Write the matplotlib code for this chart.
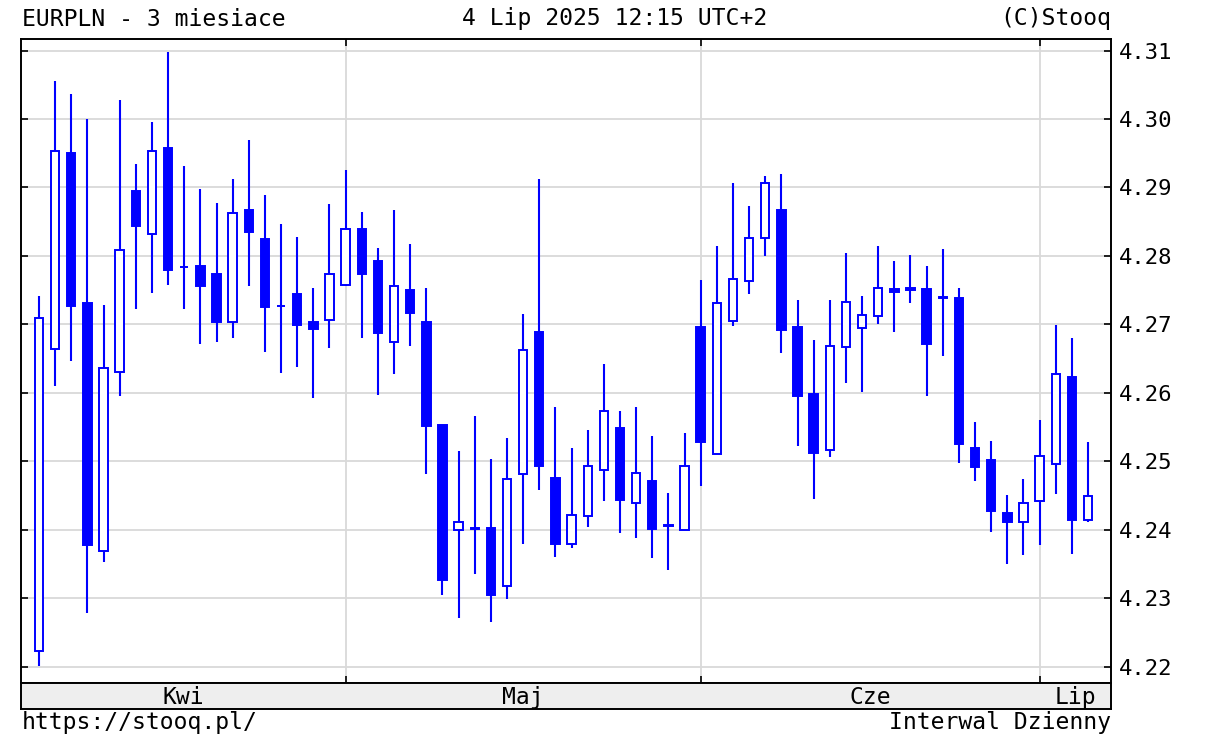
import numpy as np
import pandas as pd
import matplotlib
matplotlib.use("Agg")
import matplotlib.pyplot as plt

# EURPLN daily candles, 4 Apr 2025 - 4 Jul 2025
dates = pd.bdate_range("2025-04-04", "2025-07-04")

opens = [
    4.2224, 4.2664, 4.2950, 4.2732, 4.2369, 4.2630, 4.2895, 4.2832, 4.2957, 4.2784,
    4.2785, 4.2773, 4.2704, 4.2867, 4.2825, 4.2727, 4.2744, 4.2704, 4.2706, 4.2758,
    4.2840, 4.2793, 4.2675, 4.2750, 4.2704, 4.2553, 4.2400, 4.2402, 4.2403, 4.2318,
    4.2482, 4.2689, 4.2476, 4.2380, 4.2421, 4.2488, 4.2549, 4.2440, 4.2472, 4.2408,
    4.2400, 4.2697, 4.2511, 4.2705, 4.2763, 4.2826, 4.2867, 4.2697, 4.2598, 4.2517,
    4.2667, 4.2695, 4.2713, 4.2752, 4.2754, 4.2752, 4.2739, 4.2739, 4.2520, 4.2502,
    4.2425, 4.2412, 4.2443, 4.2496, 4.2623, 4.2415,
]
highs = [
    4.2741, 4.3055, 4.3037, 4.3000, 4.2729, 4.3028, 4.2935, 4.2996, 4.3098, 4.2932,
    4.2898, 4.2877, 4.2913, 4.2969, 4.2889, 4.2846, 4.2828, 4.2753, 4.2876, 4.2925,
    4.2864, 4.2811, 4.2867, 4.2817, 4.2753, 4.2553, 4.2516, 4.2566, 4.2504, 4.2535,
    4.2716, 4.2913, 4.2580, 4.2519, 4.2546, 4.2642, 4.2573, 4.2579, 4.2537, 4.2454,
    4.2542, 4.2765, 4.2815, 4.2907, 4.2873, 4.2917, 4.2919, 4.2736, 4.2678, 4.2736,
    4.2804, 4.2742, 4.2814, 4.2792, 4.2801, 4.2785, 4.2810, 4.2754, 4.2558, 4.2530,
    4.2451, 4.2475, 4.2561, 4.2699, 4.2681, 4.2528,
]
lows = [
    4.2202, 4.2610, 4.2647, 4.2279, 4.2353, 4.2595, 4.2722, 4.2746, 4.2758, 4.2722,
    4.2672, 4.2675, 4.2681, 4.2756, 4.2660, 4.2629, 4.2638, 4.2592, 4.2666, 4.2756,
    4.2680, 4.2597, 4.2628, 4.2668, 4.2481, 4.2305, 4.2272, 4.2336, 4.2266, 4.2299,
    4.2379, 4.2459, 4.2361, 4.2373, 4.2405, 4.2443, 4.2395, 4.2389, 4.2359, 4.2342,
    4.2400, 4.2464, 4.2511, 4.2698, 4.2745, 4.2800, 4.2659, 4.2523, 4.2445, 4.2507,
    4.2614, 4.2601, 4.2700, 4.2689, 4.2732, 4.2596, 4.2654, 4.2498, 4.2471, 4.2397,
    4.2350, 4.2363, 4.2378, 4.2452, 4.2365, 4.2411,
]
closes = [
    4.2710, 4.2953, 4.2727, 4.2378, 4.2637, 4.2809, 4.2844, 4.2953, 4.2780, 4.2784,
    4.2756, 4.2704, 4.2863, 4.2835, 4.2725, 4.2727, 4.2699, 4.2693, 4.2774, 4.2839,
    4.2773, 4.2687, 4.2756, 4.2717, 4.2552, 4.2327, 4.2411, 4.2402, 4.2305, 4.2475,
    4.2663, 4.2493, 4.2379, 4.2422, 4.2493, 4.2573, 4.2444, 4.2483, 4.2401, 4.2406,
    4.2493, 4.2529, 4.2731, 4.2767, 4.2826, 4.2907, 4.2692, 4.2596, 4.2513, 4.2669,
    4.2733, 4.2714, 4.2754, 4.2748, 4.2750, 4.2672, 4.2739, 4.2525, 4.2492, 4.2427,
    4.2412, 4.2440, 4.2508, 4.2628, 4.2414, 4.2450,
]

month_names = ["Kwi", "Maj", "Cze", "Lip"]
yticks = [4.22, 4.23, 4.24, 4.25, 4.26, 4.27, 4.28, 4.29, 4.30, 4.31]

blue = "#0000ff"
grid_col = "#d9d9d9"
font = "DejaVu Sans Mono"
fs = 16
fs_head = 16.6

W, H = 1210, 746
fig = plt.figure(figsize=(W / 100, H / 100), dpi=100)

# axes box in pixels: left 21, right 1111, top 39, bottom 683
left, right, top, bottom = 20.7, 1111, 39, 683
ax = fig.add_axes([left / W, 1 - bottom / H, (right - left) / W, (bottom - top) / H])

x = np.arange(len(dates))
o = np.array(opens)
c = np.array(closes)
up = c >= o

# wicks
ax.vlines(x, lows, highs, color=blue, linewidth=1.5, zorder=2)
# bodies
height = np.where(np.abs(c - o) < 0.00005, 0.00005, c - o)
ax.bar(x, height, bottom=o, width=0.52,
       color=np.where(up, "white", blue), edgecolor=blue, linewidth=1.4, zorder=3)

# month boundaries (first trading day of each new month)
months = dates.month
bounds = [i for i in range(1, len(dates)) if months[i] != months[i - 1]]

ax.set_xlim(-1.134, 65 + 1.425)
ax.set_ylim(4.21766, 4.31168)
ax.set_yticks(yticks)
ax.set_yticklabels([f"{v:.2f}" for v in yticks], fontfamily=font, fontsize=fs)
ax.set_xticks(bounds)
ax.set_xticklabels([])
ax.tick_params(axis="y", direction="in", length=5, width=1.2, left=True, right=True,
               labelleft=False, labelright=True, pad=5.5)
ax.tick_params(axis="x", direction="in", length=5, width=1.2, top=True, bottom=True)
ax.grid(True, color=grid_col, linewidth=1.3, zorder=0)
ax.set_axisbelow(True)
for s in ax.spines.values():
    s.set_linewidth(1.4)

# month strip under the chart
strip_bottom = 709
ax2 = fig.add_axes([left / W, 1 - strip_bottom / H, (right - left) / W,
                    (strip_bottom - bottom) / H])
ax2.set_facecolor("#eeeeee")
ax2.set_xlim(ax.get_xlim())
ax2.set_ylim(0, 1)
ax2.set_xticks([])
ax2.set_yticks([])
for s in ax2.spines.values():
    s.set_linewidth(1.4)
edges = [ax.get_xlim()[0]] + bounds + [ax.get_xlim()[1]]
for i, name in enumerate(month_names):
    ax2.text((edges[i] + edges[i + 1]) / 2, 0.45, name, ha="center", va="center",
             fontfamily=font, fontsize=fs_head)

# header and footer texts
fig.text(22 / W, 1 - 19 / H, "EURPLN - 3 miesiace", ha="left", va="center",
         fontfamily=font, fontsize=fs_head)
fig.text(615 / W, 1 - 19 / H, "4 Lip 2025 12:15 UTC+2", ha="center", va="center",
         fontfamily=font, fontsize=fs_head)
fig.text(1111 / W, 1 - 19 / H, "(C)Stooq", ha="right", va="center",
         fontfamily=font, fontsize=fs_head)
fig.text(22 / W, 1 - 723 / H, "https://stooq.pl/", ha="left", va="center",
         fontfamily=font, fontsize=fs_head)
fig.text(1111 / W, 1 - 723 / H, "Interwal Dzienny", ha="right", va="center",
         fontfamily=font, fontsize=fs_head)

fig.savefig("out.png", dpi=100, facecolor="white")
